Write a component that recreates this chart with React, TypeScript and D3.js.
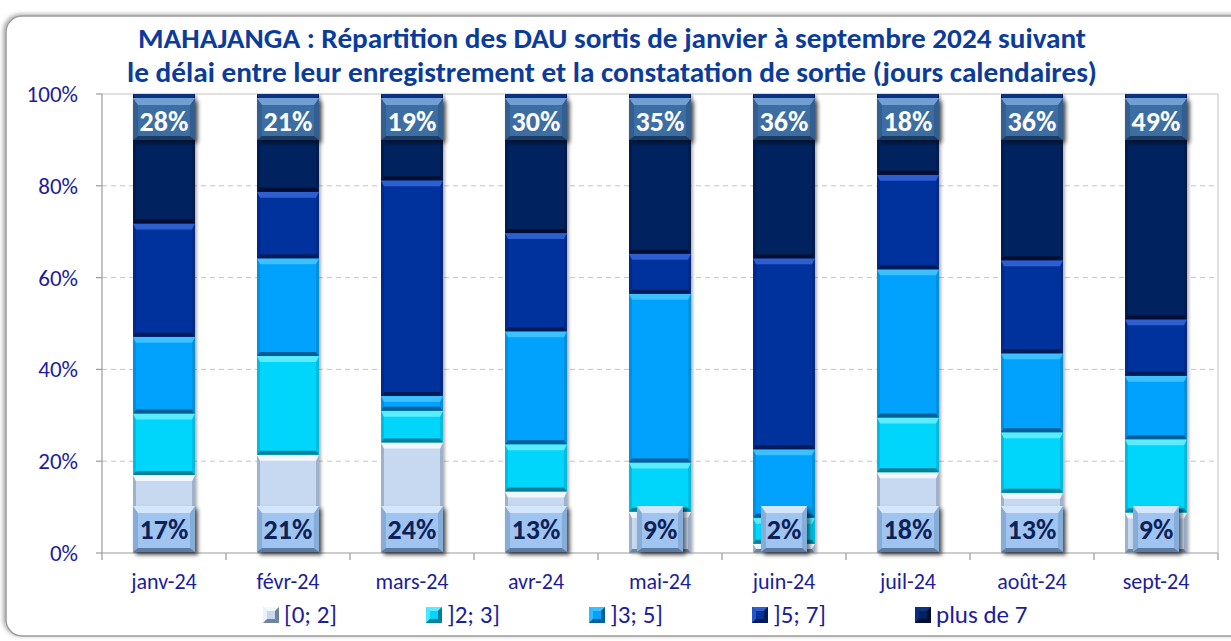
import React from 'react';
import * as d3 from 'd3';

const months = ['janv-24', 'févr-24', 'mars-24', 'avr-24', 'mai-24', 'juin-24', 'juil-24', 'août-24', 'sept-24'];
const seriesNames = ['[0; 2]', ']2; 3]', ']3; 5]', ']5; 7]', 'plus de 7'];
const s0to2 = [17.0, 21.4, 24.1, 13.4, 9.0, 2.0, 17.6, 13.1, 8.8];
const s2to3 = [13.4, 21.5, 6.9, 10.3, 10.7, 5.7, 11.9, 13.2, 16.0];
const s3to5 = [16.7, 21.3, 3.2, 24.6, 36.8, 14.9, 32.3, 17.2, 13.8];
const s5to7 = [24.7, 14.5, 47.0, 21.4, 8.7, 41.6, 20.6, 20.3, 12.3];
const sOver7 = [28.2, 21.3, 18.8, 30.3, 34.8, 35.8, 17.6, 36.2, 49.1];
const yTicks = [0, 20, 40, 60, 80, 100];
const titleLines = [
  'MAHAJANGA : Répartition des DAU sortis de janvier à septembre 2024 suivant',
  'le délai entre leur enregistrement et la constatation de sortie (jours calendaires)',
];

const seriesValues = [s0to2, s2to3, s3to5, s5to7, sOver7];

// body, top highlight, side shade, bottom shade
const palette = [
  { body: '#c6d9f1', top: '#f2f7ff', side: '#9fb2c9', bottom: '#6f839c' },
  { body: '#00d6fb', top: '#5cecff', side: '#00bde0', bottom: '#00809a' },
  { body: '#03a2fd', top: '#3cc0ff', side: '#0290e0', bottom: '#015e96' },
  { body: '#04339e', top: '#2d5fd0', side: '#032b88', bottom: '#021b57' },
  { body: '#03205f', top: '#0d3380', side: '#021a50', bottom: '#010e30' },
];

const FONT = "Carlito, Lato, 'Liberation Sans', sans-serif";
const AXIS_COLOR = '#1c1c9c';

type Rows = { month: string; [k: string]: any };

function Bevel({ x, y, w, h, c, bt = 6, bb = 4, bs = 3 }: any) {
  const t = Math.min(bt, h / 2);
  const b = Math.min(bb, h / 2);
  const s = Math.min(bs, w / 2);
  return (
    <g>
      <rect x={x} y={y} width={w} height={h} fill={c.body} />
      <polygon points={`${x},${y} ${x + s},${y + t} ${x + s},${y + h - b} ${x},${y + h}`} fill={c.side} />
      <polygon points={`${x + w},${y} ${x + w - s},${y + t} ${x + w - s},${y + h - b} ${x + w},${y + h}`} fill={c.side} />
      <polygon points={`${x},${y} ${x + w},${y} ${x + w - s},${y + t} ${x + s},${y + t}`} fill={c.top} />
      <polygon points={`${x},${y + h} ${x + w},${y + h} ${x + w - s},${y + h - b} ${x + s},${y + h - b}`} fill={c.bottom} />
    </g>
  );
}

function LegendMarker({ x, y, c }: any) {
  const s = 16;
  const i = 4;
  return (
    <g>
      <rect x={x} y={y} width={s} height={s} fill={c.body} />
      <polygon points={`${x},${y} ${x + s},${y} ${x + s - i},${y + i} ${x + i},${y + i}`} fill={c.top} />
      <polygon points={`${x},${y} ${x + i},${y + i} ${x + i},${y + s - i} ${x},${y + s}`} fill={c.top} opacity={0.8} />
      <polygon points={`${x + s},${y} ${x + s - i},${y + i} ${x + s - i},${y + s - i} ${x + s},${y + s}`} fill={c.bottom} />
      <polygon points={`${x},${y + s} ${x + s},${y + s} ${x + s - i},${y + s - i} ${x + i},${y + s - i}`} fill={c.bottom} />
    </g>
  );
}

export default function App() {
  const W = 1231;
  const H = 641;
  const plotLeft = 102;
  const plotRight = 1218;
  const plotTop = 94;
  const plotBottom = 553;

  const rows: Rows[] = months.map((m, i) => {
    const r: Rows = { month: m };
    seriesNames.forEach((s, j) => (r[s] = seriesValues[j][i]));
    return r;
  });

  const x = d3.scaleBand<string>().domain(months).range([plotLeft, plotRight]).paddingInner(0.5).paddingOuter(0.25);
  const y = d3.scaleLinear().domain([0, 100]).range([plotBottom, plotTop]);
  const stack = d3.stack<Rows>().keys(seriesNames);
  const stacked = stack(rows);
  const bw = x.bandwidth();
  const step = x.step();
  const bandEdges = months.map((m) => (x(m) as number) - (step - bw) / 2).concat([plotRight]);

  const topBox = { fill: { body: '#3e6ea3', top: '#729fd2', side: '#335f90', bottom: '#1e3d63' } };
  const botBox = { fill: { body: '#9fc4ef', top: '#d3e6fc', side: '#86acd8', bottom: '#5b7aa3' } };

  return (
    <svg width={W} height={H} style={{ position: 'absolute', left: 0, top: 0, background: '#fff' }} fontFamily={FONT}>
      <defs>
        <filter id="frameShadow" x="-5%" y="-5%" width="110%" height="110%">
          <feDropShadow dx="-2" dy="-1" stdDeviation="2" floodColor="#000" floodOpacity="0.35" />
        </filter>
        <filter id="boxShadow" x="-30%" y="-30%" width="160%" height="160%">
          <feDropShadow dx="3" dy="3" stdDeviation="2" floodColor="#000" floodOpacity="0.55" />
        </filter>
        <filter id="barShadow" x="-20%" y="-5%" width="140%" height="110%">
          <feDropShadow dx="2" dy="1" stdDeviation="1.5" floodColor="#000" floodOpacity="0.3" />
        </filter>
      </defs>
      <rect x={0} y={0} width={W} height={H} fill="#fff" />
      <rect x={6} y={16} width={1250} height={620} rx={16} ry={16} fill="#fff" stroke="#9a9a9a" strokeWidth={1.5} filter="url(#frameShadow)" />

      {titleLines.map((t, i) => (
        <text
          key={i}
          x={612}
          y={i === 0 ? 48 : 82}
          textAnchor="middle"
          fontWeight="bold"
          fontSize={28}
          fill="#0b3b9b"
          textLength={i === 0 ? 948 : 970}
          lengthAdjust="spacingAndGlyphs"
        >
          {t}
        </text>
      ))}

      {/* gridlines */}
      {yTicks.filter((t) => t > 0 && t < 100).map((t) => (
        <line key={t} x1={plotLeft} x2={plotRight} y1={y(t)} y2={y(t)} stroke="#c4c4c4" strokeDasharray="5,4" strokeWidth={1} />
      ))}
      <line x1={plotLeft} x2={plotRight} y1={y(100)} y2={y(100)} stroke="#c4c4c4" strokeWidth={1} />
      <line x1={plotRight} x2={plotRight} y1={y(100)} y2={y(0)} stroke="#c4c4c4" strokeWidth={1} />

      {/* y axis */}
      <line x1={plotLeft} x2={plotLeft} y1={plotTop} y2={plotBottom} stroke="#9a9a9a" strokeWidth={1.2} />
      {yTicks.map((t) => (
        <g key={t}>
          <line x1={plotLeft - 6} x2={plotLeft} y1={y(t)} y2={y(t)} stroke="#9a9a9a" strokeWidth={1.2} />
          <text x={78} y={y(t) + 8} textAnchor="end" fontSize={23} fill={AXIS_COLOR}>
            {t}%
          </text>
        </g>
      ))}

      {/* bars */}
      <g filter="url(#barShadow)">
        {stacked.map((layer, j) =>
          layer.map((d, i) => {
            const x0 = x(months[i]) as number;
            const y0 = y(d[1]);
            const h = y(d[0]) - y(d[1]);
            if (h <= 0.2) return null;
            return <Bevel key={`${j}-${i}`} x={x0} y={y0} w={bw} h={h} c={palette[j]} />;
          })
        )}
      </g>

      {/* x axis */}
      <line x1={plotLeft} x2={plotRight} y1={plotBottom} y2={plotBottom} stroke="#9a9a9a" strokeWidth={1.2} />
      {bandEdges.map((e, i) => (
        <line key={i} x1={e} x2={e} y1={plotBottom} y2={plotBottom + 7} stroke="#9a9a9a" strokeWidth={1.2} />
      ))}
      {months.map((m) => (
        <text key={m} x={(x(m) as number) + bw / 2} y={589} textAnchor="middle" fontSize={22} fill={AXIS_COLOR}>
          {m}
        </text>
      ))}

      {/* data labels: top (plus de 7) */}
      {sOver7.map((v, i) => {
        const cx = (x(months[i]) as number) + bw / 2;
        const label = `${Math.round(v)}%`;
        const digits = label.length - 1;
        const w = Math.min(bw, 30 + 16 * digits);
        const by = y(100) + 4;
        return (
          <g key={`t${i}`}>
            <g filter="url(#boxShadow)">
              <Bevel x={cx - w / 2} y={by} w={w} h={42} c={topBox.fill} bt={7} bb={4} bs={5} />
            </g>
            <text x={cx} y={by + 33} textAnchor="middle" fontSize={28} fontWeight="bold" fill="#fff">
              {label}
            </text>
          </g>
        );
      })}

      {/* data labels: bottom ([0; 2]) */}
      {s0to2.map((v, i) => {
        const cx = (x(months[i]) as number) + bw / 2;
        const label = `${Math.round(v)}%`;
        const digits = label.length - 1;
        const w = Math.min(bw, 30 + 16 * digits);
        const by = y(0) - 47;
        return (
          <g key={`b${i}`}>
            <g filter="url(#boxShadow)">
              <Bevel x={cx - w / 2} y={by} w={w} h={46} c={botBox.fill} bt={7} bb={4} bs={5} />
            </g>
            <text x={cx} y={by + 33} textAnchor="middle" fontSize={28} fontWeight="bold" fill="#0d2057">
              {label}
            </text>
          </g>
        );
      })}

      {/* legend */}
      {seriesNames.map((s, j) => {
        const lx = 263 + 163 * j;
        return (
          <g key={s}>
            <LegendMarker x={lx} y={607} c={palette[j]} />
            <text x={lx + 21} y={623} fontSize={25} fill={AXIS_COLOR}>
              {s}
            </text>
          </g>
        );
      })}
    </svg>
  );
}
